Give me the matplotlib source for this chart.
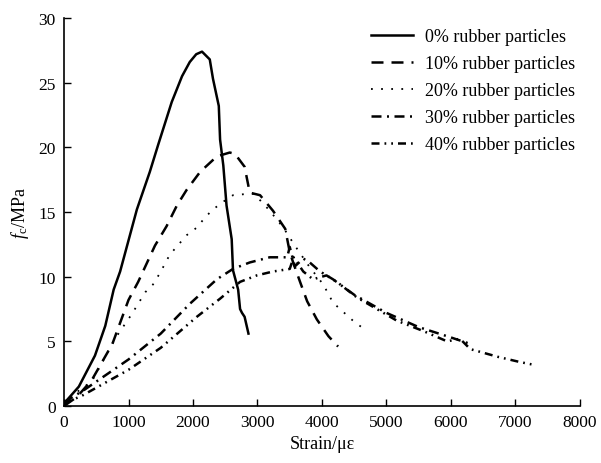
import numpy as np
import matplotlib
matplotlib.use("Agg")
import matplotlib.pyplot as plt

plt.rcParams['font.family'] = ['Liberation Serif', 'DejaVu Serif']
plt.rcParams['mathtext.fontset'] = 'custom'
plt.rcParams['mathtext.it'] = 'Liberation Serif:italic'
plt.rcParams['mathtext.rm'] = 'Liberation Serif'

# 応力-ひずみ曲線 (ゴム粒子混入率ごと)
strain_0 = [0, 230, 480, 640, 770, 870, 1130, 1330, 1460, 1670, 1830, 1950, 2050, 2140,
            2260, 2310, 2400, 2420, 2470, 2520, 2600, 2620, 2700, 2730, 2760, 2800, 2860]
stress_0 = [0.2, 1.5, 3.9, 6.2, 9.0, 10.4, 15.2, 18.1, 20.2, 23.5, 25.5, 26.6, 27.2, 27.4,
            26.8, 25.3, 23.2, 20.6, 18.6, 15.5, 12.9, 10.5, 9.0, 7.5, 7.2, 6.9, 5.6]

strain_10 = [0, 200, 430, 750, 1000, 1150, 1410, 1590, 1750, 1900, 2110, 2370, 2570, 2650,
             2800, 2880, 3040, 3240, 3430, 3500, 3560, 3660, 3770, 3920, 4100, 4250]
stress_10 = [0, 0.7, 2.0, 4.8, 8.2, 9.6, 12.4, 13.9, 15.5, 16.7, 18.1, 19.3, 19.6, 19.5,
             18.5, 16.5, 16.3, 15.1, 13.7, 11.9, 11.0, 9.6, 8.1, 6.7, 5.4, 4.6]

strain_20 = [0, 120, 430, 790, 1050, 1260, 1380, 1490, 1640, 1900, 2060, 2190, 2310, 2470,
             2620, 2840, 2950, 3190, 3400, 3580, 3800, 4020, 4170, 4280, 4480, 4640]
stress_20 = [0, 0.8, 1.9, 5.2, 7.1, 8.8, 9.4, 10.3, 11.7, 13.2, 13.8, 14.6, 15.2, 15.8,
             16.3, 16.4, 16.4, 15.1, 13.8, 12.4, 10.8, 9.4, 8.0, 7.5, 6.6, 6.0]

strain_30 = [0, 300, 1000, 1500, 1950, 2370, 2620, 2880, 3190, 3460, 3500, 3580, 3710,
             3810, 3970, 4170, 4500, 5000, 5500, 6000, 6300]
stress_30 = [0.3, 1.2, 3.6, 5.6, 7.9, 9.8, 10.6, 11.1, 11.5, 11.5, 12.3, 10.8, 11.4,
             11.1, 10.4, 9.8, 8.6, 7.2, 6.1, 5.3, 4.8]

strain_40 = [0, 280, 1000, 1500, 2060, 2420, 2730, 2990, 3240, 3500, 3560, 3710, 3860,
             4070, 4230, 4540, 4850, 5160, 5570, 5940, 6140, 6300, 6730, 7070, 7270]
stress_40 = [0.2, 0.8, 2.8, 4.5, 6.9, 8.3, 9.6, 10.1, 10.4, 10.6, 11.5, 10.4, 9.8,
             10.1, 9.6, 8.4, 7.5, 6.6, 5.8, 5.0, 5.2, 4.4, 3.8, 3.4, 3.2]

labels = ['0% rubber particles', '10% rubber particles', '20% rubber particles',
          '30% rubber particles', '40% rubber particles']

fig = plt.figure(figsize=(6.01, 4.64), dpi=100)
ax = fig.add_axes([0.1065, 0.1228, 0.8585, 0.8362])

ax.plot(strain_0, stress_0, color='black', lw=1.8, label=labels[0])
ax.plot(strain_10, stress_10, color='black', lw=1.8, dashes=(4.8, 3.2), label=labels[1])
ax.plot(strain_20, stress_20, color='black', lw=1.3, dashes=(1.0, 4.6), label=labels[2])
ax.plot(strain_30, stress_30, color='black', lw=1.8, dashes=(4.0, 2.2, 0.8, 2.2), label=labels[3])
ax.plot(strain_40, stress_40, color='black', lw=1.8,
        dashes=(3.2, 2.0, 0.7, 2.0, 0.7, 2.0), label=labels[4])

ax.set_xlim(0, 8000)
ax.set_ylim(0, 30)
ax.set_xticks(np.arange(0, 8001, 1000))
ax.set_yticks(np.arange(0, 31, 5))
ax.tick_params(direction='in', length=5, width=1, labelsize=12.5, pad=6)
ax.spines['top'].set_visible(False)
ax.spines['right'].set_visible(False)
ax.spines['left'].set_linewidth(1.2)
ax.spines['bottom'].set_linewidth(1.2)

ax.set_xlabel('Strain/με', fontsize=13, labelpad=3)
ax.set_ylabel(r'$f_\mathrm{c}$/MPa', fontsize=13, labelpad=5)

ax.legend(loc='upper left', bbox_to_anchor=(0.578, 0.997), frameon=False, fontsize=13,
          handlelength=2.3, handletextpad=0.65, labelspacing=0.55, borderpad=0)

fig.savefig('out.png', dpi=100)
